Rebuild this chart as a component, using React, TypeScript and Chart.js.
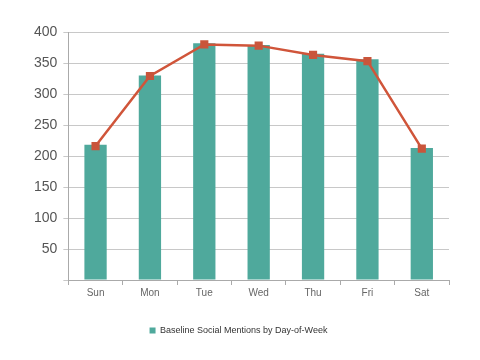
import React, { useEffect, useRef } from "react";
import { Chart, registerables } from "chart.js";
Chart.register(...registerables);

const days = ["Sun", "Mon", "Tue", "Wed", "Thu", "Fri", "Sat"];
const baselineMentions = [218, 330, 382, 379, 365, 356, 213];
const trendLine = [216, 329, 380, 378, 363, 353, 212];
const yTicks = [50, 100, 150, 200, 250, 300, 350, 400];

export default function App() {
  const ref = useRef<HTMLCanvasElement>(null);
  useEffect(() => {
    document.body.style.margin = "0";
    const chart = new Chart(ref.current!, {
      type: "bar",
      data: {
        labels: days,
        datasets: [
          {
            type: "line",
            label: "Trend",
            data: trendLine,
            borderColor: "#d0553a",
            backgroundColor: "#d0553a",
            borderWidth: 2.5,
            pointStyle: "rect",
            pointRadius: 4,
            pointBackgroundColor: "#c9553b",
            pointBorderColor: "#c9553b",
            tension: 0,
          } as any,
          {
            type: "bar",
            label: "Baseline Social Mentions by Day-of-Week",
            data: baselineMentions,
            backgroundColor: "#4fa99c",
            barPercentage: 0.41,
            categoryPercentage: 1,
          },
        ],
      },
      options: {
        animation: false,
        responsive: false,
        maintainAspectRatio: false,
        layout: { padding: { left: 28, right: 31, top: 32, bottom: 15 } },
        plugins: {
          tooltip: { enabled: false },
          legend: {
            position: "bottom",
            labels: {
              filter: (item) => item.datasetIndex === 1,
              boxWidth: 6,
              boxHeight: 6,
              font: { size: 9, family: "Liberation Sans" },
              color: "#333",
              padding: 16,
            },
          },
        },
        scales: {
          x: {
            afterFit: (scale: any) => {
              scale.height += 9;
            },
            grid: {
              offset: true,
              drawOnChartArea: false,
              drawTicks: true,
              tickLength: 5,
              color: "#aaa",
            },
            border: { color: "#aaa" },
            ticks: { font: { size: 10, family: "Liberation Sans" }, color: "#666", padding: 2 },
          },
          y: {
            min: 0,
            max: 400,
            afterBuildTicks: (scale: any) => {
              scale.ticks = [0, ...yTicks].map((v) => ({ value: v }));
            },
            ticks: {
              callback: (v: any) => (v === 0 ? "" : String(v)),
              font: { size: 14, family: "Liberation Sans" },
              color: "#555",
              padding: 6,
            },
            grid: { color: "#c8c8c8", tickLength: 5, lineWidth: 1 },
            border: { color: "#aaa" },
          },
        },
      },
    });
    return () => chart.destroy();
  }, []);
  return (
    <div style={{ width: 480, height: 360 }}>
      <canvas ref={ref} width={480} height={360} />
    </div>
  );
}
